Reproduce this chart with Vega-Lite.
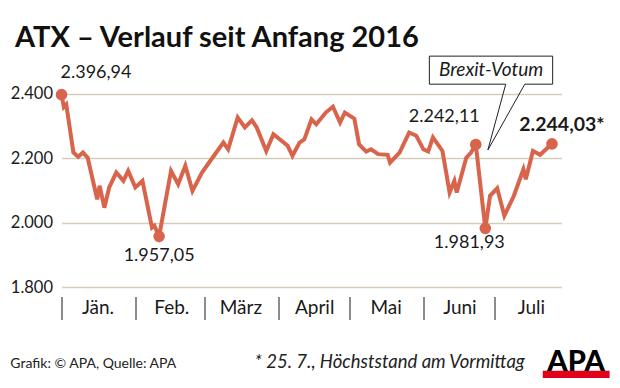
{
  "$schema": "https://vega.github.io/schema/vega-lite/v6.json",
  "width": 500,
  "height": 237,
  "autosize": {"type": "none"},
  "padding": {"left": 61.5, "top": 50, "right": 58.5, "bottom": 101},
  "background": "white",
  "config": {"view": {"stroke": null}, "font": "Lato", "text": {"font": "Lato", "color": "#1a1a1a"}},
  "title": {"text": "ATX – Verlauf seit Anfang 2016", "anchor": "start", "frame": "group", "dx": -46.5, "dy": 31, "offset": 5, "baseline": "alphabetic", "fontSize": 29, "fontWeight": "bold", "font": "Lato", "color": "#111111"},
  "datasets": {
    "atx": [
      {"datum": "2016-01-01", "wert": 2396.94, "beschriftung": "2.396,94"},
      {"datum": "2016-01-02", "wert": 2358},
      {"datum": "2016-01-03", "wert": 2366},
      {"datum": "2016-01-06", "wert": 2217},
      {"datum": "2016-01-08", "wert": 2204},
      {"datum": "2016-01-10", "wert": 2217},
      {"datum": "2016-01-12", "wert": 2201},
      {"datum": "2016-01-16", "wert": 2072},
      {"datum": "2016-01-17", "wert": 2114},
      {"datum": "2016-01-19", "wert": 2046},
      {"datum": "2016-01-21", "wert": 2108},
      {"datum": "2016-01-24", "wert": 2155},
      {"datum": "2016-01-27", "wert": 2129},
      {"datum": "2016-01-29", "wert": 2160},
      {"datum": "2016-02-01", "wert": 2109},
      {"datum": "2016-02-04", "wert": 2129},
      {"datum": "2016-02-08", "wert": 1984},
      {"datum": "2016-02-09", "wert": 1990},
      {"datum": "2016-02-11", "wert": 1957.05, "beschriftung": "1.957,05"},
      {"datum": "2016-02-16", "wert": 2160},
      {"datum": "2016-02-19", "wert": 2119},
      {"datum": "2016-02-22", "wert": 2176},
      {"datum": "2016-02-25", "wert": 2098},
      {"datum": "2016-02-29", "wert": 2155},
      {"datum": "2016-03-03", "wert": 2186},
      {"datum": "2016-03-09", "wert": 2248},
      {"datum": "2016-03-11", "wert": 2227},
      {"datum": "2016-03-15", "wert": 2326},
      {"datum": "2016-03-18", "wert": 2295},
      {"datum": "2016-03-21", "wert": 2317},
      {"datum": "2016-03-23", "wert": 2295},
      {"datum": "2016-03-27", "wert": 2222},
      {"datum": "2016-03-30", "wert": 2274},
      {"datum": "2016-04-05", "wert": 2238},
      {"datum": "2016-04-07", "wert": 2207},
      {"datum": "2016-04-10", "wert": 2248},
      {"datum": "2016-04-12", "wert": 2258},
      {"datum": "2016-04-15", "wert": 2320},
      {"datum": "2016-04-17", "wert": 2305},
      {"datum": "2016-04-21", "wert": 2341},
      {"datum": "2016-04-24", "wert": 2359},
      {"datum": "2016-04-27", "wert": 2310},
      {"datum": "2016-04-29", "wert": 2341},
      {"datum": "2016-05-03", "wert": 2322},
      {"datum": "2016-05-05", "wert": 2242},
      {"datum": "2016-05-08", "wert": 2220},
      {"datum": "2016-05-10", "wert": 2227},
      {"datum": "2016-05-13", "wert": 2212},
      {"datum": "2016-05-17", "wert": 2210},
      {"datum": "2016-05-18", "wert": 2186},
      {"datum": "2016-05-22", "wert": 2217},
      {"datum": "2016-05-26", "wert": 2279},
      {"datum": "2016-05-29", "wert": 2269},
      {"datum": "2016-06-01", "wert": 2227},
      {"datum": "2016-06-03", "wert": 2220},
      {"datum": "2016-06-05", "wert": 2264},
      {"datum": "2016-06-09", "wert": 2222},
      {"datum": "2016-06-12", "wert": 2093},
      {"datum": "2016-06-14", "wert": 2129},
      {"datum": "2016-06-15", "wert": 2093},
      {"datum": "2016-06-19", "wert": 2201},
      {"datum": "2016-06-21", "wert": 2217},
      {"datum": "2016-06-23", "wert": 2242.11, "beschriftung": "2.242,11"},
      {"datum": "2016-06-27", "wert": 1981.93, "beschriftung": "1.981,93"},
      {"datum": "2016-06-29", "wert": 2083},
      {"datum": "2016-07-02", "wert": 2106},
      {"datum": "2016-07-05", "wert": 2021},
      {"datum": "2016-07-09", "wert": 2083},
      {"datum": "2016-07-13", "wert": 2165},
      {"datum": "2016-07-14", "wert": 2134},
      {"datum": "2016-07-17", "wert": 2222},
      {"datum": "2016-07-20", "wert": 2210},
      {"datum": "2016-07-25", "wert": 2244.03, "beschriftung": "2.244,03*"}
    ]
  },
  "encoding": {
    "x": {
      "field": "datum", "type": "temporal",
      "scale": {"type": "utc", "domain": [{"year": 2016, "month": 1, "date": 1, "utc": true}, {"year": 2016, "month": 7, "date": 29, "utc": true}]},
      "axis": {
        "values": [
          {"year": 2016, "month": 1, "date": 1, "utc": true},
          {"year": 2016, "month": 2, "date": 1, "utc": true},
          {"year": 2016, "month": 3, "date": 1, "utc": true},
          {"year": 2016, "month": 4, "date": 1, "utc": true},
          {"year": 2016, "month": 5, "date": 1, "utc": true},
          {"year": 2016, "month": 6, "date": 1, "utc": true},
          {"year": 2016, "month": 7, "date": 1, "utc": true}
        ],
        "labelExpr": "['Jän.','Feb.','März','April','Mai','Juni','Juli'][utcmonth(datum.value)]",
        "labelOffset": 36, "labelAlign": "center", "labelBaseline": "alphabetic", "labelPadding": -6,
        "labelFontSize": 19, "labelColor": "#1a1a1a", "labelFont": "Lato",
        "labelOverlap": false, "labelFlush": false, "labelBound": false,
        "tickSize": 23, "tickWidth": 1.5, "tickColor": "#666666",
        "domain": false, "grid": false, "offset": 9.5, "title": null
      }
    },
    "y": {
      "field": "wert", "type": "quantitative",
      "scale": {"domain": [1800, 2535], "nice": false, "zero": false},
      "axis": {
        "values": [1800, 2000, 2200, 2400],
        "labelExpr": "replace(format(datum.value, ','), ',', '.')",
        "domain": false, "ticks": false, "grid": true, "gridColor": "#d5cdb9", "gridWidth": 1.5,
        "labelPadding": 9, "labelFontSize": 16.5, "labelColor": "#1a1a1a", "labelFont": "Lato", "labelBaseline": "middle",
        "title": null
      }
    }
  },
  "layer": [
    {"data": {"name": "atx"}, "mark": {"type": "line", "color": "#d8644c", "strokeWidth": 4, "strokeJoin": "miter"}},
    {"data": {"name": "atx"}, "transform": [{"filter": "isValid(datum.beschriftung)"}], "mark": {"type": "circle", "color": "#d8644c", "size": 135, "opacity": 1}},
    {"data": {"name": "atx"}, "transform": [{"filter": "datum.beschriftung == '2.396,94'"}], "mark": {"type": "text", "align": "left", "baseline": "alphabetic", "dx": -1, "dy": -17, "fontSize": 18}, "encoding": {"text": {"field": "beschriftung"}}},
    {"data": {"name": "atx"}, "transform": [{"filter": "datum.beschriftung == '1.957,05'"}], "mark": {"type": "text", "align": "center", "baseline": "alphabetic", "dy": 25, "fontSize": 18}, "encoding": {"text": {"field": "beschriftung"}}},
    {"data": {"name": "atx"}, "transform": [{"filter": "datum.beschriftung == '2.242,11'"}], "mark": {"type": "text", "align": "right", "baseline": "alphabetic", "dx": 4, "dy": -22, "fontSize": 18}, "encoding": {"text": {"field": "beschriftung"}}},
    {"data": {"name": "atx"}, "transform": [{"filter": "datum.beschriftung == '1.981,93'"}], "mark": {"type": "text", "align": "center", "baseline": "alphabetic", "dx": -16, "dy": 20, "fontSize": 18}, "encoding": {"text": {"field": "beschriftung"}}},
    {"data": {"name": "atx"}, "transform": [{"filter": "datum.beschriftung == '2.244,03*'"}], "mark": {"type": "text", "align": "center", "baseline": "alphabetic", "dx": 10, "dy": -13, "fontSize": 19.5, "fontWeight": "bold"}, "encoding": {"text": {"field": "beschriftung"}}},
    {
      "data": {"values": [
        {"punkt": 1, "datum": "2016-06-03T12:00:00Z", "wert": 2516},
        {"punkt": 2, "datum": "2016-07-25T07:00:00Z", "wert": 2516},
        {"punkt": 3, "datum": "2016-07-25T07:00:00Z", "wert": 2429},
        {"punkt": 4, "datum": "2016-07-13T14:00:00Z", "wert": 2429},
        {"punkt": 5, "datum": "2016-06-28T02:00:00Z", "wert": 2225},
        {"punkt": 6, "datum": "2016-07-05T14:00:00Z", "wert": 2429},
        {"punkt": 7, "datum": "2016-06-03T12:00:00Z", "wert": 2429},
        {"punkt": 8, "datum": "2016-06-03T12:00:00Z", "wert": 2516}
      ]},
      "mark": {"type": "line", "color": "#222222", "strokeWidth": 1, "strokeJoin": "miter"},
      "encoding": {"order": {"field": "punkt", "type": "quantitative"}}
    },
    {
      "data": {"values": [{"datum": "2016-06-29T10:00:00Z", "wert": 2473, "text": "Brexit-Votum"}]},
      "mark": {"type": "text", "align": "center", "baseline": "middle", "fontSize": 19, "fontStyle": "italic"},
      "encoding": {"text": {"field": "text"}}
    },
    {
      "data": {"values": [{"datum": "2015-12-10T12:00:00Z", "wert": 1549, "text": "Grafik: © APA, Quelle: APA"}]},
      "mark": {"type": "text", "align": "left", "baseline": "alphabetic", "fontSize": 14, "color": "#222222"},
      "encoding": {"text": {"field": "text"}}
    },
    {
      "data": {"values": [{"datum": "2016-07-13T14:00:00Z", "wert": 1549, "text": "* 25. 7., Höchststand am Vormittag"}]},
      "mark": {"type": "text", "align": "right", "baseline": "alphabetic", "fontSize": 18.5, "fontStyle": "italic", "color": "#222222"},
      "encoding": {"text": {"field": "text"}}
    },
    {
      "data": {"values": [{"datum": "2016-07-21T03:00:00Z", "datum2": "2016-08-18T05:00:00Z", "wert": 1540, "wert2": 1518}]},
      "mark": {"type": "rect", "color": "#e2001a"},
      "encoding": {"x2": {"field": "datum2"}, "y2": {"field": "wert2"}}
    },
    {
      "data": {"values": [{"datum": "2016-08-04T03:00:00Z", "wert": 1540, "text": "APA"}]},
      "mark": {"type": "text", "align": "center", "baseline": "alphabetic", "fontSize": 29, "fontWeight": 900, "color": "#000000"},
      "encoding": {"text": {"field": "text"}}
    }
  ]
}
